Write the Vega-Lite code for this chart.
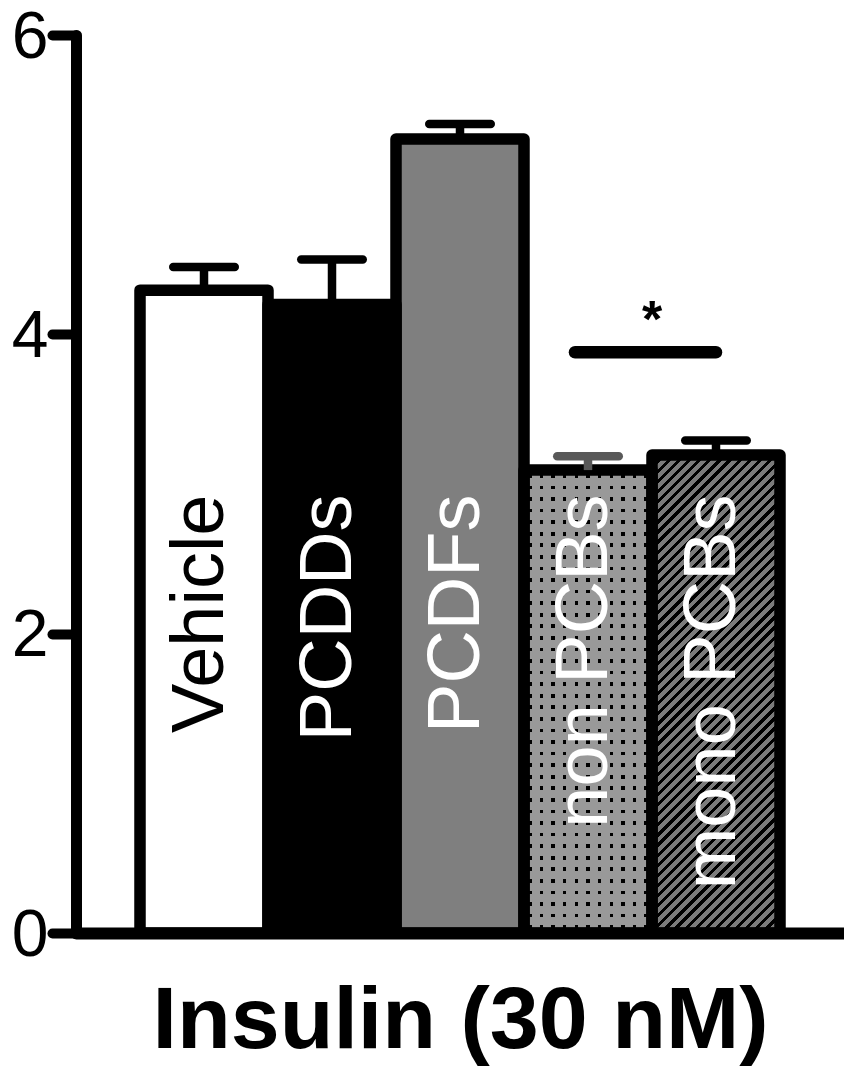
{
  "$schema": "https://vega.github.io/schema/vega-lite/v6.json",
  "autosize": "none",
  "width": 768,
  "height": 898,
  "padding": {"left": 76, "top": 35, "right": 0, "bottom": 145},
  "background": "white",
  "config": {"view": {"stroke": null}, "axis": {"grid": false, "domainColor": "black", "tickColor": "black", "labelColor": "black", "titleColor": "black"}},
  "data": {"values": [
    {"cat": "Vehicle", "mean": 4.295, "upper": 4.45},
    {"cat": "PCDDs", "mean": 4.2, "upper": 4.5},
    {"cat": "PCDFs", "mean": 5.305, "upper": 5.405},
    {"cat": "non PCBs", "mean": 3.093, "upper": 3.186},
    {"cat": "mono PCBs", "mean": 3.193, "upper": 3.29}
  ]},
  "layer": [
    {
      "mark": {"type": "bar", "strokeWidth": 0},
      "encoding": {
        "x": {"field": "cat", "type": "nominal", "sort": null,
          "scale": {"domain": ["Vehicle", "PCDDs", "PCDFs", "non PCBs", "mono PCBs"], "paddingInner": 0, "paddingOuter": 0.5},
          "axis": {"labels": false, "ticks": false, "domainWidth": 12, "domainCap": "round", "zindex": 1,
            "title": "Insulin (30 nM)", "titleFont": "Liberation Sans", "titleFontSize": 88, "titleFontWeight": "bold", "titlePadding": 44}},
        "y": {"field": "mean", "type": "quantitative", "title": null,
          "scale": {"domain": [0, 6], "nice": false},
          "axis": {"values": [0, 2, 4, 6], "format": "d", "labelFont": "Liberation Sans", "labelFontSize": 66, "labelPadding": 4, "labelOffset": 2, "labelFlush": false,
            "tickSize": 24, "tickWidth": 10, "tickCap": "round", "domainWidth": 11, "domainCap": "round", "title": null}},
        "fill": {"field": "cat", "type": "nominal", "legend": null,
          "scale": {"domain": ["Vehicle", "PCDDs", "PCDFs", "non PCBs", "mono PCBs"], "range": ["#ffffff", "#000000", "#7f7f7f", "#999999", "#7b7b7b"]}}
      }
    },
    {
      "transform": [{"filter": "datum.cat === 'mono PCBs'"}],
      "mark": {"type": "bar", "strokeWidth": 0, "fill": {"gradient": "linear", "x1": 0, "y1": 0, "x2": 0.3168, "y2": 1.183, "stops": [
        {"offset":0,"color":"#000"},{"offset":0.007,"color":"#000"},{"offset":0.007,"color":"#7b7b7b"},
        {"offset":0.01667,"color":"#7b7b7b"},{"offset":0.01667,"color":"#000"},{"offset":0.02367,"color":"#000"},{"offset":0.02367,"color":"#7b7b7b"},
        {"offset":0.03333,"color":"#7b7b7b"},{"offset":0.03333,"color":"#000"},{"offset":0.04033,"color":"#000"},{"offset":0.04033,"color":"#7b7b7b"},
        {"offset":0.05,"color":"#7b7b7b"},{"offset":0.05,"color":"#000"},{"offset":0.057,"color":"#000"},{"offset":0.057,"color":"#7b7b7b"},
        {"offset":0.06667,"color":"#7b7b7b"},{"offset":0.06667,"color":"#000"},{"offset":0.07367,"color":"#000"},{"offset":0.07367,"color":"#7b7b7b"},
        {"offset":0.08333,"color":"#7b7b7b"},{"offset":0.08333,"color":"#000"},{"offset":0.09033,"color":"#000"},{"offset":0.09033,"color":"#7b7b7b"},
        {"offset":0.1,"color":"#7b7b7b"},{"offset":0.1,"color":"#000"},{"offset":0.107,"color":"#000"},{"offset":0.107,"color":"#7b7b7b"},
        {"offset":0.11667,"color":"#7b7b7b"},{"offset":0.11667,"color":"#000"},{"offset":0.12367,"color":"#000"},{"offset":0.12367,"color":"#7b7b7b"},
        {"offset":0.13333,"color":"#7b7b7b"},{"offset":0.13333,"color":"#000"},{"offset":0.14033,"color":"#000"},{"offset":0.14033,"color":"#7b7b7b"},
        {"offset":0.15,"color":"#7b7b7b"},{"offset":0.15,"color":"#000"},{"offset":0.157,"color":"#000"},{"offset":0.157,"color":"#7b7b7b"},
        {"offset":0.16667,"color":"#7b7b7b"},{"offset":0.16667,"color":"#000"},{"offset":0.17367,"color":"#000"},{"offset":0.17367,"color":"#7b7b7b"},
        {"offset":0.18333,"color":"#7b7b7b"},{"offset":0.18333,"color":"#000"},{"offset":0.19033,"color":"#000"},{"offset":0.19033,"color":"#7b7b7b"},
        {"offset":0.2,"color":"#7b7b7b"},{"offset":0.2,"color":"#000"},{"offset":0.207,"color":"#000"},{"offset":0.207,"color":"#7b7b7b"},
        {"offset":0.21667,"color":"#7b7b7b"},{"offset":0.21667,"color":"#000"},{"offset":0.22367,"color":"#000"},{"offset":0.22367,"color":"#7b7b7b"},
        {"offset":0.23333,"color":"#7b7b7b"},{"offset":0.23333,"color":"#000"},{"offset":0.24033,"color":"#000"},{"offset":0.24033,"color":"#7b7b7b"},
        {"offset":0.25,"color":"#7b7b7b"},{"offset":0.25,"color":"#000"},{"offset":0.257,"color":"#000"},{"offset":0.257,"color":"#7b7b7b"},
        {"offset":0.26667,"color":"#7b7b7b"},{"offset":0.26667,"color":"#000"},{"offset":0.27367,"color":"#000"},{"offset":0.27367,"color":"#7b7b7b"},
        {"offset":0.28333,"color":"#7b7b7b"},{"offset":0.28333,"color":"#000"},{"offset":0.29033,"color":"#000"},{"offset":0.29033,"color":"#7b7b7b"},
        {"offset":0.3,"color":"#7b7b7b"},{"offset":0.3,"color":"#000"},{"offset":0.307,"color":"#000"},{"offset":0.307,"color":"#7b7b7b"},
        {"offset":0.31667,"color":"#7b7b7b"},{"offset":0.31667,"color":"#000"},{"offset":0.32367,"color":"#000"},{"offset":0.32367,"color":"#7b7b7b"},
        {"offset":0.33333,"color":"#7b7b7b"},{"offset":0.33333,"color":"#000"},{"offset":0.34033,"color":"#000"},{"offset":0.34033,"color":"#7b7b7b"},
        {"offset":0.35,"color":"#7b7b7b"},{"offset":0.35,"color":"#000"},{"offset":0.357,"color":"#000"},{"offset":0.357,"color":"#7b7b7b"},
        {"offset":0.36667,"color":"#7b7b7b"},{"offset":0.36667,"color":"#000"},{"offset":0.37367,"color":"#000"},{"offset":0.37367,"color":"#7b7b7b"},
        {"offset":0.38333,"color":"#7b7b7b"},{"offset":0.38333,"color":"#000"},{"offset":0.39033,"color":"#000"},{"offset":0.39033,"color":"#7b7b7b"},
        {"offset":0.4,"color":"#7b7b7b"},{"offset":0.4,"color":"#000"},{"offset":0.407,"color":"#000"},{"offset":0.407,"color":"#7b7b7b"},
        {"offset":0.41667,"color":"#7b7b7b"},{"offset":0.41667,"color":"#000"},{"offset":0.42367,"color":"#000"},{"offset":0.42367,"color":"#7b7b7b"},
        {"offset":0.43333,"color":"#7b7b7b"},{"offset":0.43333,"color":"#000"},{"offset":0.44033,"color":"#000"},{"offset":0.44033,"color":"#7b7b7b"},
        {"offset":0.45,"color":"#7b7b7b"},{"offset":0.45,"color":"#000"},{"offset":0.457,"color":"#000"},{"offset":0.457,"color":"#7b7b7b"},
        {"offset":0.46667,"color":"#7b7b7b"},{"offset":0.46667,"color":"#000"},{"offset":0.47367,"color":"#000"},{"offset":0.47367,"color":"#7b7b7b"},
        {"offset":0.48333,"color":"#7b7b7b"},{"offset":0.48333,"color":"#000"},{"offset":0.49033,"color":"#000"},{"offset":0.49033,"color":"#7b7b7b"},
        {"offset":0.5,"color":"#7b7b7b"},{"offset":0.5,"color":"#000"},{"offset":0.507,"color":"#000"},{"offset":0.507,"color":"#7b7b7b"},
        {"offset":0.51667,"color":"#7b7b7b"},{"offset":0.51667,"color":"#000"},{"offset":0.52367,"color":"#000"},{"offset":0.52367,"color":"#7b7b7b"},
        {"offset":0.53333,"color":"#7b7b7b"},{"offset":0.53333,"color":"#000"},{"offset":0.54033,"color":"#000"},{"offset":0.54033,"color":"#7b7b7b"},
        {"offset":0.55,"color":"#7b7b7b"},{"offset":0.55,"color":"#000"},{"offset":0.557,"color":"#000"},{"offset":0.557,"color":"#7b7b7b"},
        {"offset":0.56667,"color":"#7b7b7b"},{"offset":0.56667,"color":"#000"},{"offset":0.57367,"color":"#000"},{"offset":0.57367,"color":"#7b7b7b"},
        {"offset":0.58333,"color":"#7b7b7b"},{"offset":0.58333,"color":"#000"},{"offset":0.59033,"color":"#000"},{"offset":0.59033,"color":"#7b7b7b"},
        {"offset":0.6,"color":"#7b7b7b"},{"offset":0.6,"color":"#000"},{"offset":0.607,"color":"#000"},{"offset":0.607,"color":"#7b7b7b"},
        {"offset":0.61667,"color":"#7b7b7b"},{"offset":0.61667,"color":"#000"},{"offset":0.62367,"color":"#000"},{"offset":0.62367,"color":"#7b7b7b"},
        {"offset":0.63333,"color":"#7b7b7b"},{"offset":0.63333,"color":"#000"},{"offset":0.64033,"color":"#000"},{"offset":0.64033,"color":"#7b7b7b"},
        {"offset":0.65,"color":"#7b7b7b"},{"offset":0.65,"color":"#000"},{"offset":0.657,"color":"#000"},{"offset":0.657,"color":"#7b7b7b"},
        {"offset":0.66667,"color":"#7b7b7b"},{"offset":0.66667,"color":"#000"},{"offset":0.67367,"color":"#000"},{"offset":0.67367,"color":"#7b7b7b"},
        {"offset":0.68333,"color":"#7b7b7b"},{"offset":0.68333,"color":"#000"},{"offset":0.69033,"color":"#000"},{"offset":0.69033,"color":"#7b7b7b"},
        {"offset":0.7,"color":"#7b7b7b"},{"offset":0.7,"color":"#000"},{"offset":0.707,"color":"#000"},{"offset":0.707,"color":"#7b7b7b"},
        {"offset":0.71667,"color":"#7b7b7b"},{"offset":0.71667,"color":"#000"},{"offset":0.72367,"color":"#000"},{"offset":0.72367,"color":"#7b7b7b"},
        {"offset":0.73333,"color":"#7b7b7b"},{"offset":0.73333,"color":"#000"},{"offset":0.74033,"color":"#000"},{"offset":0.74033,"color":"#7b7b7b"},
        {"offset":0.75,"color":"#7b7b7b"},{"offset":0.75,"color":"#000"},{"offset":0.757,"color":"#000"},{"offset":0.757,"color":"#7b7b7b"},
        {"offset":0.76667,"color":"#7b7b7b"},{"offset":0.76667,"color":"#000"},{"offset":0.77367,"color":"#000"},{"offset":0.77367,"color":"#7b7b7b"},
        {"offset":0.78333,"color":"#7b7b7b"},{"offset":0.78333,"color":"#000"},{"offset":0.79033,"color":"#000"},{"offset":0.79033,"color":"#7b7b7b"},
        {"offset":0.8,"color":"#7b7b7b"},{"offset":0.8,"color":"#000"},{"offset":0.807,"color":"#000"},{"offset":0.807,"color":"#7b7b7b"},
        {"offset":0.81667,"color":"#7b7b7b"},{"offset":0.81667,"color":"#000"},{"offset":0.82367,"color":"#000"},{"offset":0.82367,"color":"#7b7b7b"},
        {"offset":0.83333,"color":"#7b7b7b"},{"offset":0.83333,"color":"#000"},{"offset":0.84033,"color":"#000"},{"offset":0.84033,"color":"#7b7b7b"},
        {"offset":0.85,"color":"#7b7b7b"},{"offset":0.85,"color":"#000"},{"offset":0.857,"color":"#000"},{"offset":0.857,"color":"#7b7b7b"},
        {"offset":0.86667,"color":"#7b7b7b"},{"offset":0.86667,"color":"#000"},{"offset":0.87367,"color":"#000"},{"offset":0.87367,"color":"#7b7b7b"},
        {"offset":0.88333,"color":"#7b7b7b"},{"offset":0.88333,"color":"#000"},{"offset":0.89033,"color":"#000"},{"offset":0.89033,"color":"#7b7b7b"},
        {"offset":0.9,"color":"#7b7b7b"},{"offset":0.9,"color":"#000"},{"offset":0.907,"color":"#000"},{"offset":0.907,"color":"#7b7b7b"},
        {"offset":0.91667,"color":"#7b7b7b"},{"offset":0.91667,"color":"#000"},{"offset":0.92367,"color":"#000"},{"offset":0.92367,"color":"#7b7b7b"},
        {"offset":0.93333,"color":"#7b7b7b"},{"offset":0.93333,"color":"#000"},{"offset":0.94033,"color":"#000"},{"offset":0.94033,"color":"#7b7b7b"},
        {"offset":0.95,"color":"#7b7b7b"},{"offset":0.95,"color":"#000"},{"offset":0.957,"color":"#000"},{"offset":0.957,"color":"#7b7b7b"},
        {"offset":0.96667,"color":"#7b7b7b"},{"offset":0.96667,"color":"#000"},{"offset":0.97367,"color":"#000"},{"offset":0.97367,"color":"#7b7b7b"},
        {"offset":0.98333,"color":"#7b7b7b"},{"offset":0.98333,"color":"#000"},{"offset":0.99033,"color":"#000"},{"offset":0.99033,"color":"#7b7b7b"},
        {"offset":1,"color":"#7b7b7b"}
      ]}},
      "encoding": {
        "x": {"field": "cat", "type": "nominal", "sort": null, "scale": {"domain": ["Vehicle", "PCDDs", "PCDFs", "non PCBs", "mono PCBs"]}},
        "y": {"field": "mean", "type": "quantitative", "title": null, "scale": {"domain": [0, 6]}}
      }
    },
    {
      "transform": [{"filter": "datum.cat === 'non PCBs'"}],
      "mark": {"type": "bar", "strokeWidth": 0, "fill": {"gradient": "linear", "x1": 0, "y1": 0, "x2": 1, "y2": 0, "stops": [
        {"offset":0.0318,"color":"#999999"},{"offset":0.0318,"color":"#000"},{"offset":0.0591,"color":"#000"},{"offset":0.0591,"color":"#999999"},
        {"offset":0.1227,"color":"#999999"},{"offset":0.1227,"color":"#000"},{"offset":0.15,"color":"#000"},{"offset":0.15,"color":"#999999"},
        {"offset":0.2136,"color":"#999999"},{"offset":0.2136,"color":"#000"},{"offset":0.2409,"color":"#000"},{"offset":0.2409,"color":"#999999"},
        {"offset":0.3045,"color":"#999999"},{"offset":0.3045,"color":"#000"},{"offset":0.3318,"color":"#000"},{"offset":0.3318,"color":"#999999"},
        {"offset":0.3955,"color":"#999999"},{"offset":0.3955,"color":"#000"},{"offset":0.4227,"color":"#000"},{"offset":0.4227,"color":"#999999"},
        {"offset":0.4864,"color":"#999999"},{"offset":0.4864,"color":"#000"},{"offset":0.5136,"color":"#000"},{"offset":0.5136,"color":"#999999"},
        {"offset":0.5773,"color":"#999999"},{"offset":0.5773,"color":"#000"},{"offset":0.6045,"color":"#000"},{"offset":0.6045,"color":"#999999"},
        {"offset":0.6682,"color":"#999999"},{"offset":0.6682,"color":"#000"},{"offset":0.6955,"color":"#000"},{"offset":0.6955,"color":"#999999"},
        {"offset":0.7591,"color":"#999999"},{"offset":0.7591,"color":"#000"},{"offset":0.7864,"color":"#000"},{"offset":0.7864,"color":"#999999"},
        {"offset":0.85,"color":"#999999"},{"offset":0.85,"color":"#000"},{"offset":0.8773,"color":"#000"},{"offset":0.8773,"color":"#999999"},
        {"offset":0.9409,"color":"#999999"},{"offset":0.9409,"color":"#000"},{"offset":0.9682,"color":"#000"},{"offset":0.9682,"color":"#999999"}
      ]}},
      "encoding": {
        "x": {"field": "cat", "type": "nominal", "sort": null, "scale": {"domain": ["Vehicle", "PCDDs", "PCDFs", "non PCBs", "mono PCBs"]}},
        "y": {"field": "mean", "type": "quantitative", "title": null, "scale": {"domain": [0, 6]}}
      }
    },
    {
      "transform": [{"filter": "datum.cat === 'non PCBs'"}],
      "mark": {"type": "bar", "strokeWidth": 0, "fill": {"gradient": "linear", "x1": 0, "y1": 0, "x2": 0, "y2": 1, "stops": [
        {"offset":0.0085,"color":"#999999"},{"offset":0.0085,"color":"rgba(153,153,153,0)"},{"offset":0.0165,"color":"rgba(153,153,153,0)"},{"offset":0.0165,"color":"#999999"},
        {"offset":0.0335,"color":"#999999"},{"offset":0.0335,"color":"rgba(153,153,153,0)"},{"offset":0.0415,"color":"rgba(153,153,153,0)"},{"offset":0.0415,"color":"#999999"},
        {"offset":0.0585,"color":"#999999"},{"offset":0.0585,"color":"rgba(153,153,153,0)"},{"offset":0.0665,"color":"rgba(153,153,153,0)"},{"offset":0.0665,"color":"#999999"},
        {"offset":0.0835,"color":"#999999"},{"offset":0.0835,"color":"rgba(153,153,153,0)"},{"offset":0.0915,"color":"rgba(153,153,153,0)"},{"offset":0.0915,"color":"#999999"},
        {"offset":0.1085,"color":"#999999"},{"offset":0.1085,"color":"rgba(153,153,153,0)"},{"offset":0.1165,"color":"rgba(153,153,153,0)"},{"offset":0.1165,"color":"#999999"},
        {"offset":0.1335,"color":"#999999"},{"offset":0.1335,"color":"rgba(153,153,153,0)"},{"offset":0.1415,"color":"rgba(153,153,153,0)"},{"offset":0.1415,"color":"#999999"},
        {"offset":0.1585,"color":"#999999"},{"offset":0.1585,"color":"rgba(153,153,153,0)"},{"offset":0.1665,"color":"rgba(153,153,153,0)"},{"offset":0.1665,"color":"#999999"},
        {"offset":0.1835,"color":"#999999"},{"offset":0.1835,"color":"rgba(153,153,153,0)"},{"offset":0.1915,"color":"rgba(153,153,153,0)"},{"offset":0.1915,"color":"#999999"},
        {"offset":0.2085,"color":"#999999"},{"offset":0.2085,"color":"rgba(153,153,153,0)"},{"offset":0.2165,"color":"rgba(153,153,153,0)"},{"offset":0.2165,"color":"#999999"},
        {"offset":0.2335,"color":"#999999"},{"offset":0.2335,"color":"rgba(153,153,153,0)"},{"offset":0.2415,"color":"rgba(153,153,153,0)"},{"offset":0.2415,"color":"#999999"},
        {"offset":0.2585,"color":"#999999"},{"offset":0.2585,"color":"rgba(153,153,153,0)"},{"offset":0.2665,"color":"rgba(153,153,153,0)"},{"offset":0.2665,"color":"#999999"},
        {"offset":0.2835,"color":"#999999"},{"offset":0.2835,"color":"rgba(153,153,153,0)"},{"offset":0.2915,"color":"rgba(153,153,153,0)"},{"offset":0.2915,"color":"#999999"},
        {"offset":0.3085,"color":"#999999"},{"offset":0.3085,"color":"rgba(153,153,153,0)"},{"offset":0.3165,"color":"rgba(153,153,153,0)"},{"offset":0.3165,"color":"#999999"},
        {"offset":0.3335,"color":"#999999"},{"offset":0.3335,"color":"rgba(153,153,153,0)"},{"offset":0.3415,"color":"rgba(153,153,153,0)"},{"offset":0.3415,"color":"#999999"},
        {"offset":0.3585,"color":"#999999"},{"offset":0.3585,"color":"rgba(153,153,153,0)"},{"offset":0.3665,"color":"rgba(153,153,153,0)"},{"offset":0.3665,"color":"#999999"},
        {"offset":0.3835,"color":"#999999"},{"offset":0.3835,"color":"rgba(153,153,153,0)"},{"offset":0.3915,"color":"rgba(153,153,153,0)"},{"offset":0.3915,"color":"#999999"},
        {"offset":0.4085,"color":"#999999"},{"offset":0.4085,"color":"rgba(153,153,153,0)"},{"offset":0.4165,"color":"rgba(153,153,153,0)"},{"offset":0.4165,"color":"#999999"},
        {"offset":0.4335,"color":"#999999"},{"offset":0.4335,"color":"rgba(153,153,153,0)"},{"offset":0.4415,"color":"rgba(153,153,153,0)"},{"offset":0.4415,"color":"#999999"},
        {"offset":0.4585,"color":"#999999"},{"offset":0.4585,"color":"rgba(153,153,153,0)"},{"offset":0.4665,"color":"rgba(153,153,153,0)"},{"offset":0.4665,"color":"#999999"},
        {"offset":0.4835,"color":"#999999"},{"offset":0.4835,"color":"rgba(153,153,153,0)"},{"offset":0.4915,"color":"rgba(153,153,153,0)"},{"offset":0.4915,"color":"#999999"},
        {"offset":0.5085,"color":"#999999"},{"offset":0.5085,"color":"rgba(153,153,153,0)"},{"offset":0.5165,"color":"rgba(153,153,153,0)"},{"offset":0.5165,"color":"#999999"},
        {"offset":0.5335,"color":"#999999"},{"offset":0.5335,"color":"rgba(153,153,153,0)"},{"offset":0.5415,"color":"rgba(153,153,153,0)"},{"offset":0.5415,"color":"#999999"},
        {"offset":0.5585,"color":"#999999"},{"offset":0.5585,"color":"rgba(153,153,153,0)"},{"offset":0.5665,"color":"rgba(153,153,153,0)"},{"offset":0.5665,"color":"#999999"},
        {"offset":0.5835,"color":"#999999"},{"offset":0.5835,"color":"rgba(153,153,153,0)"},{"offset":0.5915,"color":"rgba(153,153,153,0)"},{"offset":0.5915,"color":"#999999"},
        {"offset":0.6085,"color":"#999999"},{"offset":0.6085,"color":"rgba(153,153,153,0)"},{"offset":0.6165,"color":"rgba(153,153,153,0)"},{"offset":0.6165,"color":"#999999"},
        {"offset":0.6335,"color":"#999999"},{"offset":0.6335,"color":"rgba(153,153,153,0)"},{"offset":0.6415,"color":"rgba(153,153,153,0)"},{"offset":0.6415,"color":"#999999"},
        {"offset":0.6585,"color":"#999999"},{"offset":0.6585,"color":"rgba(153,153,153,0)"},{"offset":0.6665,"color":"rgba(153,153,153,0)"},{"offset":0.6665,"color":"#999999"},
        {"offset":0.6835,"color":"#999999"},{"offset":0.6835,"color":"rgba(153,153,153,0)"},{"offset":0.6915,"color":"rgba(153,153,153,0)"},{"offset":0.6915,"color":"#999999"},
        {"offset":0.7085,"color":"#999999"},{"offset":0.7085,"color":"rgba(153,153,153,0)"},{"offset":0.7165,"color":"rgba(153,153,153,0)"},{"offset":0.7165,"color":"#999999"},
        {"offset":0.7335,"color":"#999999"},{"offset":0.7335,"color":"rgba(153,153,153,0)"},{"offset":0.7415,"color":"rgba(153,153,153,0)"},{"offset":0.7415,"color":"#999999"},
        {"offset":0.7585,"color":"#999999"},{"offset":0.7585,"color":"rgba(153,153,153,0)"},{"offset":0.7665,"color":"rgba(153,153,153,0)"},{"offset":0.7665,"color":"#999999"},
        {"offset":0.7835,"color":"#999999"},{"offset":0.7835,"color":"rgba(153,153,153,0)"},{"offset":0.7915,"color":"rgba(153,153,153,0)"},{"offset":0.7915,"color":"#999999"},
        {"offset":0.8085,"color":"#999999"},{"offset":0.8085,"color":"rgba(153,153,153,0)"},{"offset":0.8165,"color":"rgba(153,153,153,0)"},{"offset":0.8165,"color":"#999999"},
        {"offset":0.8335,"color":"#999999"},{"offset":0.8335,"color":"rgba(153,153,153,0)"},{"offset":0.8415,"color":"rgba(153,153,153,0)"},{"offset":0.8415,"color":"#999999"},
        {"offset":0.8585,"color":"#999999"},{"offset":0.8585,"color":"rgba(153,153,153,0)"},{"offset":0.8665,"color":"rgba(153,153,153,0)"},{"offset":0.8665,"color":"#999999"},
        {"offset":0.8835,"color":"#999999"},{"offset":0.8835,"color":"rgba(153,153,153,0)"},{"offset":0.8915,"color":"rgba(153,153,153,0)"},{"offset":0.8915,"color":"#999999"},
        {"offset":0.9085,"color":"#999999"},{"offset":0.9085,"color":"rgba(153,153,153,0)"},{"offset":0.9165,"color":"rgba(153,153,153,0)"},{"offset":0.9165,"color":"#999999"},
        {"offset":0.9335,"color":"#999999"},{"offset":0.9335,"color":"rgba(153,153,153,0)"},{"offset":0.9415,"color":"rgba(153,153,153,0)"},{"offset":0.9415,"color":"#999999"},
        {"offset":0.9585,"color":"#999999"},{"offset":0.9585,"color":"rgba(153,153,153,0)"},{"offset":0.9665,"color":"rgba(153,153,153,0)"},{"offset":0.9665,"color":"#999999"},
        {"offset":0.9835,"color":"#999999"},{"offset":0.9835,"color":"rgba(153,153,153,0)"},{"offset":0.9915,"color":"rgba(153,153,153,0)"},{"offset":0.9915,"color":"#999999"}
      ]}},
      "encoding": {
        "x": {"field": "cat", "type": "nominal", "sort": null, "scale": {"domain": ["Vehicle", "PCDDs", "PCDFs", "non PCBs", "mono PCBs"]}},
        "y": {"field": "mean", "type": "quantitative", "title": null, "scale": {"domain": [0, 6]}}
      }
    },
    {
      "mark": {"type": "bar", "fill": "transparent", "stroke": "black", "strokeWidth": 11.5, "strokeJoin": "round"},
      "encoding": {
        "x": {"field": "cat", "type": "nominal", "sort": null, "scale": {"domain": ["Vehicle", "PCDDs", "PCDFs", "non PCBs", "mono PCBs"]}},
        "y": {"field": "mean", "type": "quantitative", "title": null, "scale": {"domain": [0, 6]}}
      }
    },
    {
      "mark": {"type": "rule", "strokeWidth": 8.5, "opacity": 1},
      "encoding": {
        "x": {"field": "cat", "type": "nominal", "sort": null, "scale": {"domain": ["Vehicle", "PCDDs", "PCDFs", "non PCBs", "mono PCBs"]}},
        "y": {"field": "mean", "type": "quantitative", "title": null, "scale": {"domain": [0, 6]}},
        "y2": {"field": "upper"},
        "color": {"condition": {"test": "datum.cat === 'non PCBs'", "value": "#595959"}, "value": "black"}
      }
    },
    {
      "mark": {"type": "tick", "orient": "horizontal", "size": 70, "thickness": 8.5, "cornerRadius": 4.25, "opacity": 1},
      "encoding": {
        "x": {"field": "cat", "type": "nominal", "sort": null, "scale": {"domain": ["Vehicle", "PCDDs", "PCDFs", "non PCBs", "mono PCBs"]}},
        "y": {"field": "upper", "type": "quantitative", "title": null, "scale": {"domain": [0, 6]}},
        "color": {"condition": {"test": "datum.cat === 'non PCBs'", "value": "#595959"}, "value": "black"}
      }
    },
    {
      "mark": {"type": "text", "angle": 270, "align": "right", "baseline": "alphabetic", "dy": 19, "fontSize": 74, "font": "Liberation Sans"},
      "encoding": {
        "x": {"field": "cat", "type": "nominal", "sort": null, "scale": {"domain": ["Vehicle", "PCDDs", "PCDFs", "non PCBs", "mono PCBs"]}},
        "y": {"datum": 2.93, "type": "quantitative", "scale": {"domain": [0, 6]}},
        "text": {"field": "cat"},
        "color": {"condition": {"test": "datum.cat === 'Vehicle'", "value": "black"}, "value": "white"}
      }
    },
    {
      "data": {"values": [{"from": "non PCBs", "to": "mono PCBs", "y": 3.88, "label": "*"}]},
      "mark": {"type": "rule", "strokeWidth": 12.5, "strokeCap": "round", "color": "black"},
      "encoding": {
        "x": {"field": "from", "type": "nominal", "sort": null, "scale": {"domain": ["Vehicle", "PCDDs", "PCDFs", "non PCBs", "mono PCBs"]}},
        "x2": {"field": "to"},
        "xOffset": {"value": 51},
        "x2Offset": {"value": 13},
        "y": {"field": "y", "type": "quantitative", "title": null, "scale": {"domain": [0, 6]}}
      }
    },
    {
      "data": {"values": [{"from": "non PCBs", "to": "mono PCBs", "y": 3.88, "label": "*"}]},
      "mark": {"type": "text", "fontSize": 52, "fontWeight": "bold", "font": "Liberation Sans", "baseline": "alphabetic", "align": "center", "dy": -15, "color": "black"},
      "encoding": {
        "x": {"field": "from", "type": "nominal", "sort": null, "bandPosition": 1, "scale": {"domain": ["Vehicle", "PCDDs", "PCDFs", "non PCBs", "mono PCBs"]}},
        "y": {"field": "y", "type": "quantitative", "title": null, "scale": {"domain": [0, 6]}},
        "text": {"field": "label"}
      }
    }
  ]
}
